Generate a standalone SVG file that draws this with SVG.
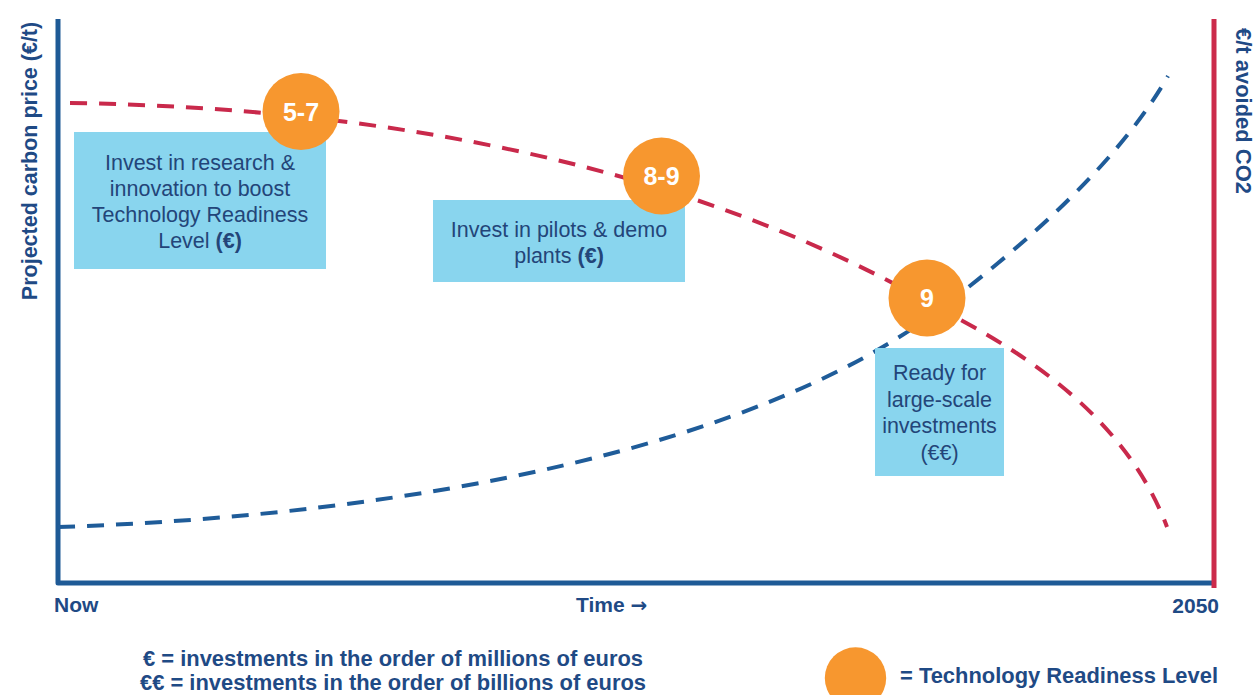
<svg xmlns="http://www.w3.org/2000/svg" width="1257" height="695" viewBox="0 0 1257 695">
<style>
.bold{font-family:"Liberation Sans",Arial,sans-serif;font-weight:bold;fill:#1F4A85}
.box{fill:#89D5EE}
.btxt{font-family:"Liberation Sans",Arial,sans-serif;font-size:21.5px;fill:#234579;text-anchor:middle}
.trl{fill:#F7972F}
.num{font-family:"Liberation Sans",Arial,sans-serif;font-weight:bold;font-size:25px;fill:#FFFFFF;text-anchor:middle}
.dash{fill:none;stroke-width:4;stroke-dasharray:17 12}
</style>
<rect width="1257" height="695" fill="#FFFFFF"/>
<g id="axes">
<polyline points="58,19 58,583 1214,583" fill="none" stroke="#1E5A96" stroke-width="5" stroke-linejoin="round"/>
<line x1="1214" y1="19" x2="1214" y2="588" stroke="#CC2B4B" stroke-width="5"/>
<text class="bold" font-size="21.5" transform="translate(37,161) rotate(-90)" text-anchor="middle">Projected carbon price (€/t)</text>
<text class="bold" font-size="21.5" transform="translate(1236,28) rotate(90)" textLength="166" lengthAdjust="spacingAndGlyphs">€/t avoided CO2</text>
<text class="bold" font-size="21" x="54" y="612">Now</text>
<text class="bold" font-size="21" x="576" y="612">Time <tspan font-family="'DejaVu Sans',sans-serif" font-size="20">→</tspan></text>
<text class="bold" font-size="21" x="1219" y="613" text-anchor="end">2050</text>
</g>
<g id="connectors">
<path class="dash" stroke="#C9294B" d="M70,103 C400,108 700,170 940,309 C1020,350 1125,415 1167,527"/>
<path class="dash" stroke="#1F5C99" d="M58,527 C420,515 760,445 940,309 C1030,241 1120,160 1168,76"/>
</g>
<g id="box1">
<rect class="box" x="74" y="132" width="252" height="137"/>
<text class="btxt"><tspan x="200" y="170">Invest in research &amp;</tspan><tspan x="200" y="196">innovation to boost</tspan><tspan x="200" y="222">Technology Readiness</tspan><tspan x="200" y="248">Level <tspan font-weight="bold">(€)</tspan></tspan></text>
</g>
<g id="box2">
<rect class="box" x="433" y="200" width="252" height="82"/>
<text class="btxt"><tspan x="559" y="237">Invest in pilots &amp; demo</tspan><tspan x="559" y="263">plants <tspan font-weight="bold">(€)</tspan></tspan></text>
</g>
<g id="box3">
<rect class="box" x="875" y="348" width="129" height="128"/>
<text class="btxt"><tspan x="939.5" y="380">Ready for</tspan><tspan x="939.5" y="406.5">large-scale</tspan><tspan x="939.5" y="433">investments</tspan><tspan x="939.5" y="460">(€€)</tspan></text>
</g>
<g id="trl57">
<circle class="trl" cx="301" cy="111.5" r="38.5"/>
<text class="num" x="301" y="120.5">5-7</text>
</g>
<g id="trl89">
<circle class="trl" cx="661.5" cy="176" r="38.5"/>
<text class="num" x="661.5" y="185">8-9</text>
</g>
<g id="trl9">
<circle class="trl" cx="927" cy="298" r="38.5"/>
<text class="num" x="927" y="307">9</text>
</g>
<g id="legend">
<text class="bold" font-size="21.5" x="393" y="666" text-anchor="middle" textLength="500" lengthAdjust="spacingAndGlyphs">€ = investments in the order of millions of euros</text>
<text class="bold" font-size="21.5" x="393" y="690" text-anchor="middle" textLength="506" lengthAdjust="spacingAndGlyphs">€€ = investments in the order of billions of euros</text>
<circle class="trl" cx="855.5" cy="678" r="30.7"/>
<text class="bold" font-size="21.5" x="900" y="683" textLength="318" lengthAdjust="spacingAndGlyphs">= Technology Readiness Level</text>
</g>
</svg>
